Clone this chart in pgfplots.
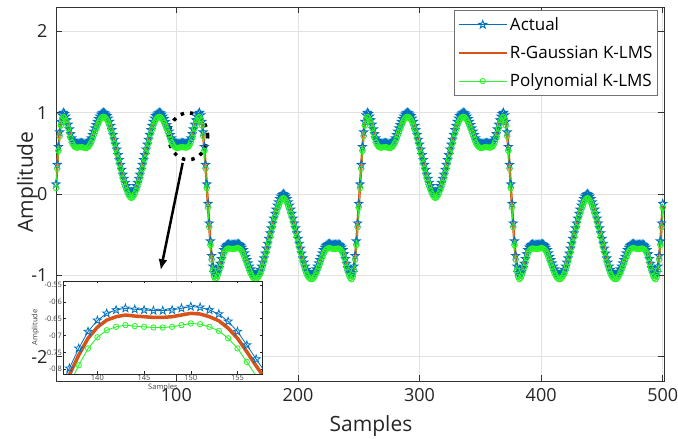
\documentclass[border=0pt]{standalone}
\usepackage{pgfplots}
\pgfplotsset{compat=1.18}
\usepackage{pgfplotstable}
\usepackage{fontspec}
\setmainfont{Open Sans}
\usetikzlibrary{arrows.meta}
\definecolor{mblue}{RGB}{0,114,189}
\definecolor{mred}{RGB}{217,83,25}
\definecolor{mgreen}{RGB}{40,245,40}
\definecolor{mgrid}{RGB}{226,226,226}

% MATLAB-like pentagram marker
\pgfdeclareplotmark{pentagram}{%
  \pgfpathmoveto{\pgfpointpolar{90}{\pgfplotmarksize}}%
  \pgfpathlineto{\pgfpointpolar{126}{0.4\pgfplotmarksize}}%
  \pgfpathlineto{\pgfpointpolar{162}{\pgfplotmarksize}}%
  \pgfpathlineto{\pgfpointpolar{198}{0.4\pgfplotmarksize}}%
  \pgfpathlineto{\pgfpointpolar{234}{\pgfplotmarksize}}%
  \pgfpathlineto{\pgfpointpolar{270}{0.4\pgfplotmarksize}}%
  \pgfpathlineto{\pgfpointpolar{306}{\pgfplotmarksize}}%
  \pgfpathlineto{\pgfpointpolar{342}{0.4\pgfplotmarksize}}%
  \pgfpathlineto{\pgfpointpolar{18}{\pgfplotmarksize}}%
  \pgfpathlineto{\pgfpointpolar{54}{0.4\pgfplotmarksize}}%
  \pgfpathclose\pgfusepathqstroke}

% x, actual, R-Gaussian K-LMS, Polynomial K-LMS
\pgfplotstableread{
x a g p
1 0.12 0.1 0.07
2 0.36 0.34 0.31
3 0.58 0.56 0.53
4 0.76 0.74 0.71
5 0.89 0.87 0.84
6 0.97 0.95 0.92
7 1 0.98 0.95
8 0.985 0.965 0.935
9 0.955 0.935 0.905
10 0.91 0.89 0.86
11 0.855 0.835 0.805
12 0.797 0.777 0.747
13 0.738 0.718 0.688
14 0.688 0.668 0.638
15 0.655 0.635 0.605
16 0.634 0.614 0.584
17 0.624 0.604 0.574
18 0.619 0.599 0.569
19 0.622 0.602 0.572
20 0.624 0.604 0.574
21 0.626 0.606 0.576
22 0.626 0.606 0.576
23 0.624 0.604 0.574
24 0.619 0.599 0.569
25 0.614 0.594 0.564
26 0.616 0.596 0.566
27 0.624 0.604 0.574
28 0.636 0.616 0.586
29 0.658 0.638 0.608
30 0.688 0.668 0.638
31 0.728 0.708 0.678
32 0.77 0.75 0.72
33 0.81 0.79 0.76
34 0.85 0.83 0.8
35 0.89 0.87 0.84
36 0.925 0.905 0.875
37 0.955 0.935 0.905
38 0.98 0.96 0.93
39 0.995 0.975 0.945
40 1 0.98 0.95
41 0.995 0.975 0.945
42 0.98 0.96 0.93
43 0.96 0.94 0.91
44 0.93 0.91 0.88
45 0.89 0.87 0.84
46 0.84 0.82 0.79
47 0.79 0.77 0.74
48 0.73 0.71 0.68
49 0.67 0.65 0.62
50 0.61 0.59 0.56
51 0.55 0.53 0.5
52 0.48 0.46 0.43
53 0.42 0.4 0.37
54 0.36 0.34 0.31
55 0.3 0.28 0.25
56 0.24 0.22 0.19
57 0.19 0.17 0.14
58 0.14 0.12 0.09
59 0.1 0.08 0.05
60 0.06 0.04 0.01
61 0.03 0.01 -0.02
62 0.01 -0.01 -0.04
63 0 -0.02 -0.05
64 0.01 -0.01 -0.04
65 0.03 0.01 -0.02
66 0.06 0.04 0.01
67 0.1 0.08 0.05
68 0.14 0.12 0.09
69 0.19 0.17 0.14
70 0.24 0.22 0.19
71 0.3 0.28 0.25
72 0.36 0.34 0.31
73 0.42 0.4 0.37
74 0.48 0.46 0.43
75 0.55 0.53 0.5
76 0.61 0.59 0.56
77 0.67 0.65 0.62
78 0.73 0.71 0.68
79 0.79 0.77 0.74
80 0.84 0.82 0.79
81 0.89 0.87 0.84
82 0.93 0.91 0.88
83 0.96 0.94 0.91
84 0.98 0.96 0.93
85 0.995 0.975 0.945
86 1 0.98 0.95
87 0.995 0.975 0.945
88 0.98 0.96 0.93
89 0.955 0.935 0.905
90 0.925 0.905 0.875
91 0.89 0.87 0.84
92 0.85 0.83 0.8
93 0.81 0.79 0.76
94 0.77 0.75 0.72
95 0.728 0.708 0.678
96 0.688 0.668 0.638
97 0.658 0.638 0.608
98 0.636 0.616 0.586
99 0.624 0.604 0.574
100 0.616 0.596 0.566
101 0.614 0.594 0.564
102 0.619 0.599 0.569
103 0.624 0.604 0.574
104 0.626 0.606 0.576
105 0.626 0.606 0.576
106 0.624 0.604 0.574
107 0.622 0.602 0.572
108 0.619 0.599 0.569
109 0.624 0.604 0.574
110 0.634 0.614 0.584
111 0.655 0.635 0.605
112 0.688 0.668 0.638
113 0.738 0.718 0.688
114 0.797 0.777 0.747
115 0.855 0.835 0.805
116 0.91 0.89 0.86
117 0.955 0.935 0.905
118 0.985 0.965 0.935
119 1 0.98 0.95
120 0.97 0.95 0.92
121 0.89 0.87 0.84
122 0.76 0.74 0.71
123 0.58 0.56 0.53
124 0.36 0.34 0.31
125 0.12 0.1 0.07
126 -0.12 -0.14 -0.17
127 -0.36 -0.38 -0.41
128 -0.58 -0.6 -0.63
129 -0.76 -0.78 -0.81
130 -0.89 -0.91 -0.94
131 -0.97 -0.99 -1.02
132 -1 -1.02 -1.05
133 -0.985 -1.005 -1.035
134 -0.955 -0.975 -1.005
135 -0.91 -0.93 -0.96
136 -0.855 -0.875 -0.905
137 -0.797 -0.817 -0.847
138 -0.738 -0.758 -0.788
139 -0.688 -0.708 -0.738
140 -0.655 -0.675 -0.705
141 -0.634 -0.654 -0.684
142 -0.624 -0.644 -0.674
143 -0.619 -0.639 -0.669
144 -0.622 -0.642 -0.672
145 -0.624 -0.644 -0.674
146 -0.626 -0.646 -0.676
147 -0.626 -0.646 -0.676
148 -0.624 -0.644 -0.674
149 -0.619 -0.639 -0.669
150 -0.614 -0.634 -0.664
151 -0.616 -0.636 -0.666
152 -0.624 -0.644 -0.674
153 -0.636 -0.656 -0.686
154 -0.658 -0.678 -0.708
155 -0.688 -0.708 -0.738
156 -0.728 -0.748 -0.778
157 -0.77 -0.79 -0.82
158 -0.81 -0.83 -0.86
159 -0.85 -0.87 -0.9
160 -0.89 -0.91 -0.94
161 -0.925 -0.945 -0.975
162 -0.955 -0.975 -1.005
163 -0.98 -1 -1.03
164 -0.995 -1.015 -1.045
165 -1 -1.02 -1.05
166 -0.995 -1.015 -1.045
167 -0.98 -1 -1.03
168 -0.96 -0.98 -1.01
169 -0.93 -0.95 -0.98
170 -0.89 -0.91 -0.94
171 -0.84 -0.86 -0.89
172 -0.79 -0.81 -0.84
173 -0.73 -0.75 -0.78
174 -0.67 -0.69 -0.72
175 -0.61 -0.63 -0.66
176 -0.55 -0.57 -0.6
177 -0.48 -0.5 -0.53
178 -0.42 -0.44 -0.47
179 -0.36 -0.38 -0.41
180 -0.3 -0.32 -0.35
181 -0.24 -0.26 -0.29
182 -0.19 -0.21 -0.24
183 -0.14 -0.16 -0.19
184 -0.1 -0.12 -0.15
185 -0.06 -0.08 -0.11
186 -0.03 -0.05 -0.08
187 -0.01 -0.03 -0.06
188 0 -0.02 -0.05
189 -0.01 -0.03 -0.06
190 -0.03 -0.05 -0.08
191 -0.06 -0.08 -0.11
192 -0.1 -0.12 -0.15
193 -0.14 -0.16 -0.19
194 -0.19 -0.21 -0.24
195 -0.24 -0.26 -0.29
196 -0.3 -0.32 -0.35
197 -0.36 -0.38 -0.41
198 -0.42 -0.44 -0.47
199 -0.48 -0.5 -0.53
200 -0.55 -0.57 -0.6
201 -0.61 -0.63 -0.66
202 -0.67 -0.69 -0.72
203 -0.73 -0.75 -0.78
204 -0.79 -0.81 -0.84
205 -0.84 -0.86 -0.89
206 -0.89 -0.91 -0.94
207 -0.93 -0.95 -0.98
208 -0.96 -0.98 -1.01
209 -0.98 -1 -1.03
210 -0.995 -1.015 -1.045
211 -1 -1.02 -1.05
212 -0.995 -1.015 -1.045
213 -0.98 -1 -1.03
214 -0.955 -0.975 -1.005
215 -0.925 -0.945 -0.975
216 -0.89 -0.91 -0.94
217 -0.85 -0.87 -0.9
218 -0.81 -0.83 -0.86
219 -0.77 -0.79 -0.82
220 -0.728 -0.748 -0.778
221 -0.688 -0.708 -0.738
222 -0.658 -0.678 -0.708
223 -0.636 -0.656 -0.686
224 -0.624 -0.644 -0.674
225 -0.616 -0.636 -0.666
226 -0.614 -0.634 -0.664
227 -0.619 -0.639 -0.669
228 -0.624 -0.644 -0.674
229 -0.626 -0.646 -0.676
230 -0.626 -0.646 -0.676
231 -0.624 -0.644 -0.674
232 -0.622 -0.642 -0.672
233 -0.619 -0.639 -0.669
234 -0.624 -0.644 -0.674
235 -0.634 -0.654 -0.684
236 -0.655 -0.675 -0.705
237 -0.688 -0.708 -0.738
238 -0.738 -0.758 -0.788
239 -0.797 -0.817 -0.847
240 -0.855 -0.875 -0.905
241 -0.91 -0.93 -0.96
242 -0.955 -0.975 -1.005
243 -0.985 -1.005 -1.035
244 -1 -1.02 -1.05
245 -0.97 -0.99 -1.02
246 -0.89 -0.91 -0.94
247 -0.76 -0.78 -0.81
248 -0.58 -0.6 -0.63
249 -0.36 -0.38 -0.41
250 -0.12 -0.14 -0.17
251 0.12 0.1 0.07
252 0.36 0.34 0.31
253 0.58 0.56 0.53
254 0.76 0.74 0.71
255 0.89 0.87 0.84
256 0.97 0.95 0.92
257 1 0.98 0.95
258 0.985 0.965 0.935
259 0.955 0.935 0.905
260 0.91 0.89 0.86
261 0.855 0.835 0.805
262 0.797 0.777 0.747
263 0.738 0.718 0.688
264 0.688 0.668 0.638
265 0.655 0.635 0.605
266 0.634 0.614 0.584
267 0.624 0.604 0.574
268 0.619 0.599 0.569
269 0.622 0.602 0.572
270 0.624 0.604 0.574
271 0.626 0.606 0.576
272 0.626 0.606 0.576
273 0.624 0.604 0.574
274 0.619 0.599 0.569
275 0.614 0.594 0.564
276 0.616 0.596 0.566
277 0.624 0.604 0.574
278 0.636 0.616 0.586
279 0.658 0.638 0.608
280 0.688 0.668 0.638
281 0.728 0.708 0.678
282 0.77 0.75 0.72
283 0.81 0.79 0.76
284 0.85 0.83 0.8
285 0.89 0.87 0.84
286 0.925 0.905 0.875
287 0.955 0.935 0.905
288 0.98 0.96 0.93
289 0.995 0.975 0.945
290 1 0.98 0.95
291 0.995 0.975 0.945
292 0.98 0.96 0.93
293 0.96 0.94 0.91
294 0.93 0.91 0.88
295 0.89 0.87 0.84
296 0.84 0.82 0.79
297 0.79 0.77 0.74
298 0.73 0.71 0.68
299 0.67 0.65 0.62
300 0.61 0.59 0.56
301 0.55 0.53 0.5
302 0.48 0.46 0.43
303 0.42 0.4 0.37
304 0.36 0.34 0.31
305 0.3 0.28 0.25
306 0.24 0.22 0.19
307 0.19 0.17 0.14
308 0.14 0.12 0.09
309 0.1 0.08 0.05
310 0.06 0.04 0.01
311 0.03 0.01 -0.02
312 0.01 -0.01 -0.04
313 0 -0.02 -0.05
314 0.01 -0.01 -0.04
315 0.03 0.01 -0.02
316 0.06 0.04 0.01
317 0.1 0.08 0.05
318 0.14 0.12 0.09
319 0.19 0.17 0.14
320 0.24 0.22 0.19
321 0.3 0.28 0.25
322 0.36 0.34 0.31
323 0.42 0.4 0.37
324 0.48 0.46 0.43
325 0.55 0.53 0.5
326 0.61 0.59 0.56
327 0.67 0.65 0.62
328 0.73 0.71 0.68
329 0.79 0.77 0.74
330 0.84 0.82 0.79
331 0.89 0.87 0.84
332 0.93 0.91 0.88
333 0.96 0.94 0.91
334 0.98 0.96 0.93
335 0.995 0.975 0.945
336 1 0.98 0.95
337 0.995 0.975 0.945
338 0.98 0.96 0.93
339 0.955 0.935 0.905
340 0.925 0.905 0.875
341 0.89 0.87 0.84
342 0.85 0.83 0.8
343 0.81 0.79 0.76
344 0.77 0.75 0.72
345 0.728 0.708 0.678
346 0.688 0.668 0.638
347 0.658 0.638 0.608
348 0.636 0.616 0.586
349 0.624 0.604 0.574
350 0.616 0.596 0.566
351 0.614 0.594 0.564
352 0.619 0.599 0.569
353 0.624 0.604 0.574
354 0.626 0.606 0.576
355 0.626 0.606 0.576
356 0.624 0.604 0.574
357 0.622 0.602 0.572
358 0.619 0.599 0.569
359 0.624 0.604 0.574
360 0.634 0.614 0.584
361 0.655 0.635 0.605
362 0.688 0.668 0.638
363 0.738 0.718 0.688
364 0.797 0.777 0.747
365 0.855 0.835 0.805
366 0.91 0.89 0.86
367 0.955 0.935 0.905
368 0.985 0.965 0.935
369 1 0.98 0.95
370 0.97 0.95 0.92
371 0.89 0.87 0.84
372 0.76 0.74 0.71
373 0.58 0.56 0.53
374 0.36 0.34 0.31
375 0.12 0.1 0.07
376 -0.12 -0.14 -0.17
377 -0.36 -0.38 -0.41
378 -0.58 -0.6 -0.63
379 -0.76 -0.78 -0.81
380 -0.89 -0.91 -0.94
381 -0.97 -0.99 -1.02
382 -1 -1.02 -1.05
383 -0.985 -1.005 -1.035
384 -0.955 -0.975 -1.005
385 -0.91 -0.93 -0.96
386 -0.855 -0.875 -0.905
387 -0.797 -0.817 -0.847
388 -0.738 -0.758 -0.788
389 -0.688 -0.708 -0.738
390 -0.655 -0.675 -0.705
391 -0.634 -0.654 -0.684
392 -0.624 -0.644 -0.674
393 -0.619 -0.639 -0.669
394 -0.622 -0.642 -0.672
395 -0.624 -0.644 -0.674
396 -0.626 -0.646 -0.676
397 -0.626 -0.646 -0.676
398 -0.624 -0.644 -0.674
399 -0.619 -0.639 -0.669
400 -0.614 -0.634 -0.664
401 -0.616 -0.636 -0.666
402 -0.624 -0.644 -0.674
403 -0.636 -0.656 -0.686
404 -0.658 -0.678 -0.708
405 -0.688 -0.708 -0.738
406 -0.728 -0.748 -0.778
407 -0.77 -0.79 -0.82
408 -0.81 -0.83 -0.86
409 -0.85 -0.87 -0.9
410 -0.89 -0.91 -0.94
411 -0.925 -0.945 -0.975
412 -0.955 -0.975 -1.005
413 -0.98 -1 -1.03
414 -0.995 -1.015 -1.045
415 -1 -1.02 -1.05
416 -0.995 -1.015 -1.045
417 -0.98 -1 -1.03
418 -0.96 -0.98 -1.01
419 -0.93 -0.95 -0.98
420 -0.89 -0.91 -0.94
421 -0.84 -0.86 -0.89
422 -0.79 -0.81 -0.84
423 -0.73 -0.75 -0.78
424 -0.67 -0.69 -0.72
425 -0.61 -0.63 -0.66
426 -0.55 -0.57 -0.6
427 -0.48 -0.5 -0.53
428 -0.42 -0.44 -0.47
429 -0.36 -0.38 -0.41
430 -0.3 -0.32 -0.35
431 -0.24 -0.26 -0.29
432 -0.19 -0.21 -0.24
433 -0.14 -0.16 -0.19
434 -0.1 -0.12 -0.15
435 -0.06 -0.08 -0.11
436 -0.03 -0.05 -0.08
437 -0.01 -0.03 -0.06
438 0 -0.02 -0.05
439 -0.01 -0.03 -0.06
440 -0.03 -0.05 -0.08
441 -0.06 -0.08 -0.11
442 -0.1 -0.12 -0.15
443 -0.14 -0.16 -0.19
444 -0.19 -0.21 -0.24
445 -0.24 -0.26 -0.29
446 -0.3 -0.32 -0.35
447 -0.36 -0.38 -0.41
448 -0.42 -0.44 -0.47
449 -0.48 -0.5 -0.53
450 -0.55 -0.57 -0.6
451 -0.61 -0.63 -0.66
452 -0.67 -0.69 -0.72
453 -0.73 -0.75 -0.78
454 -0.79 -0.81 -0.84
455 -0.84 -0.86 -0.89
456 -0.89 -0.91 -0.94
457 -0.93 -0.95 -0.98
458 -0.96 -0.98 -1.01
459 -0.98 -1 -1.03
460 -0.995 -1.015 -1.045
461 -1 -1.02 -1.05
462 -0.995 -1.015 -1.045
463 -0.98 -1 -1.03
464 -0.955 -0.975 -1.005
465 -0.925 -0.945 -0.975
466 -0.89 -0.91 -0.94
467 -0.85 -0.87 -0.9
468 -0.81 -0.83 -0.86
469 -0.77 -0.79 -0.82
470 -0.728 -0.748 -0.778
471 -0.688 -0.708 -0.738
472 -0.658 -0.678 -0.708
473 -0.636 -0.656 -0.686
474 -0.624 -0.644 -0.674
475 -0.616 -0.636 -0.666
476 -0.614 -0.634 -0.664
477 -0.619 -0.639 -0.669
478 -0.624 -0.644 -0.674
479 -0.626 -0.646 -0.676
480 -0.626 -0.646 -0.676
481 -0.624 -0.644 -0.674
482 -0.622 -0.642 -0.672
483 -0.619 -0.639 -0.669
484 -0.624 -0.644 -0.674
485 -0.634 -0.654 -0.684
486 -0.655 -0.675 -0.705
487 -0.688 -0.708 -0.738
488 -0.738 -0.758 -0.788
489 -0.797 -0.817 -0.847
490 -0.855 -0.875 -0.905
491 -0.91 -0.93 -0.96
492 -0.955 -0.975 -1.005
493 -0.985 -1.005 -1.035
494 -1 -1.02 -1.05
495 -0.97 -0.99 -1.02
496 -0.89 -0.91 -0.94
497 -0.76 -0.78 -0.81
498 -0.58 -0.6 -0.63
499 -0.36 -0.38 -0.41
500 -0.12 -0.14 -0.17
}\sig

\begin{document}
\begin{tikzpicture}
\begin{axis}[
  at={(0pt,0pt)}, anchor=south west,
  width=608pt, height=374pt, scale only axis,
  xmin=1, xmax=501, ymin=-2.3, ymax=2.3,
  xtick={100,200,300,400,500}, ytick={-2,-1,0,1,2},
  grid=major, major grid style={draw=mgrid, line width=0.9pt},
  tick align=inside, major tick length=6pt,
  axis line style={draw=black!80, line width=0.9pt},
  major tick style={draw=black!80, line width=0.9pt},
  /pgf/number format/assume math mode=true,
  tick label style={font=\fontsize{18}{18}\selectfont, text=black!85},
  xticklabel style={yshift=-4pt},
  yticklabel style={xshift=-5pt},
  xlabel={Samples}, ylabel={Amplitude},
  xlabel style={at={(axis description cs:0.518,-0.136)}, anchor=base,
    font=\fontsize{21}{21}\selectfont, text=black!85},
  ylabel style={at={(axis description cs:-0.038,0.532)}, anchor=base,
    font=\fontsize{21}{21}\selectfont, text=black!85},
  legend style={at={(0.990,0.992)}, anchor=north east,
    font=\fontsize{17}{17}\selectfont, draw=black!55, fill=white,
    line width=0.9pt, inner xsep=3pt, inner ysep=5pt, row sep=10pt},
  legend cell align=left,
  legend image code/.code={\draw[mark repeat=2,mark phase=2]
    plot coordinates {(0pt,0pt) (24pt,0pt) (48pt,0pt)};},
]
\addplot[mblue, line width=0.8pt, mark=pentagram, mark size=4.2pt,
  mark options={line width=0.9pt}] table[x=x,y=a]{\sig};
\addplot[mred, line width=2.5pt] table[x=x,y=g]{\sig};
\addplot[mgreen, line width=0.9pt, mark=o, mark size=2.6pt,
  mark options={line width=0.9pt}] table[x=x,y=p]{\sig};
\legend{Actual, R-Gaussian K-LMS, Polynomial K-LMS}
\draw[black, line width=3.5pt, dash pattern=on 3.5pt off 6pt]
  (axis cs:109.7,0.71) ellipse [x radius=19.5pt, y radius=23.5pt];
\draw[black, line width=2.5pt, -{Latex[length=11pt,width=9pt]}]
  (axis cs:105.2,0.383) -- (axis cs:87.1,-0.938);
\end{axis}

% zoomed inset
\begin{axis}[
  at={(7.3pt,7pt)}, anchor=south west,
  width=199.4pt, height=93pt, scale only axis,
  xmin=136.35, xmax=157.7, ymin=-0.814, ymax=-0.538,
  axis background/.style={fill=white},
  xtick={140,145,150,155}, ytick={-0.8,-0.75,-0.7,-0.65,-0.6,-0.55},
  tick align=inside, major tick length=2.5pt,
  axis line style={draw=black!85, line width=0.6pt},
  major tick style={draw=black!85, line width=0.5pt},
  /pgf/number format/assume math mode=true,
  yticklabel style={/pgf/number format/fixed, /pgf/number format/precision=2},
  tick label style={font=\fontsize{7.5}{7.5}\selectfont, text=black!75, inner sep=1.2pt},
  xlabel={Samples}, ylabel={Amplitude},
  xlabel style={at={(axis description cs:0.5,-0.15)}, anchor=center,
    font=\fontsize{7.5}{7.5}\selectfont, text=black!75},
  ylabel style={at={(axis description cs:-0.14,0.5)}, anchor=center,
    font=\fontsize{7.5}{7.5}\selectfont, text=black!75},
]
\addplot[mblue, line width=0.8pt, mark=pentagram, mark size=4.2pt,
  mark options={line width=0.8pt}, restrict x to domain=130:165]
  table[x=x,y=a]{\sig};
\addplot[mred, line width=3.5pt, restrict x to domain=130:165]
  table[x=x,y=g]{\sig};
\addplot[mgreen, line width=0.9pt, mark=o, mark size=2.7pt,
  mark options={line width=0.8pt}, restrict x to domain=130:165]
  table[x=x,y=p]{\sig};
\end{axis}

\pgfresetboundingbox
\path[use as bounding box] (-56pt,-58pt) rectangle (622pt,381pt);
\end{tikzpicture}
\end{document}
